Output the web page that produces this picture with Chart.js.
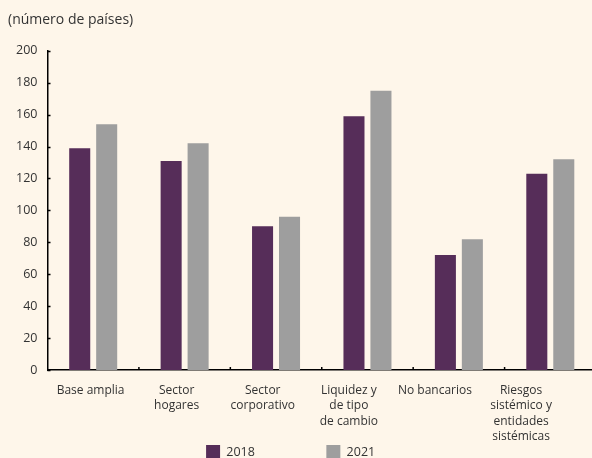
<!DOCTYPE html>
<html>
<head>
<meta charset="utf-8">
<script src="https://cdn.jsdelivr.net/npm/chart.js@4"></script>
<style>
  html, body { margin: 0; padding: 0; background: #FEF6EA; overflow: hidden; }
  #wrap { position: relative; width: 596px; height: 469px; }
</style>
</head>
<body>
<div id="wrap"><canvas id="c"></canvas></div>
<script>
const categories = [
  ["Base amplia"],
  ["Sector", "hogares"],
  ["Sector", "corporativo"],
  ["Liquidez y", "de tipo", "de cambio"],
  ["No bancarios"],
  ["Riesgos", "sistémico y", "entidades", "sistémicas"]
];
const seriesNames = ["2018", "2021"];
const values2018 = [139, 131, 90, 159, 72, 123];
const values2021 = [154, 142, 96, 175, 82, 132];
const yTicks = [0, 20, 40, 60, 80, 100, 120, 140, 160, 180, 200];
const unitLabel = "(número de países)";

const FONT = "'Open Sans', sans-serif";
const TEXT = "#333333";

const innerTicks = {
  id: 'innerTicks',
  afterDraw(chart) {
    const ctx = chart.ctx;
    const x = chart.scales.x, y = chart.scales.y;
    ctx.save();
    ctx.strokeStyle = '#000';
    ctx.lineWidth = 1.5;
    ctx.beginPath();
    yTicks.forEach(v => {
      const py = Math.round(y.getPixelForValue(v)) + 0.5;
      ctx.moveTo(x.left, py);
      ctx.lineTo(x.left + 3, py);
    });
    for (let i = 0; i < categories.length - 1; i++) {
      const px = (x.getPixelForValue(i) + x.getPixelForValue(i + 1)) / 2;
      ctx.moveTo(px, y.bottom);
      ctx.lineTo(px, y.bottom - 3);
    }
    ctx.stroke();
    ctx.restore();
  }
};

new Chart(document.getElementById('c'), {
  type: 'bar',
  data: {
    labels: categories,
    datasets: [
      { label: seriesNames[0], data: values2018, backgroundColor: '#562D59', categoryPercentage: 0.59, barPercentage: 0.78 },
      { label: seriesNames[1], data: values2021, backgroundColor: '#9E9E9E', categoryPercentage: 0.59, barPercentage: 0.78 }
    ]
  },
  options: {
    responsive: true,
    maintainAspectRatio: false,
    animation: false,
    layout: { padding: { left: 8, right: 0, top: 0, bottom: 0 } },
    plugins: {
      title: {
        display: true, text: unitLabel, align: 'start', color: TEXT,
        font: { family: FONT, size: 14, weight: 'normal' },
        padding: { top: 12, bottom: 22 }
      },
      legend: {
        position: 'bottom',
        labels: {
          color: TEXT, font: { family: FONT, size: 12.5 },
          boxWidth: 14, boxHeight: 14, padding: 0,
          generateLabels(chart) {
            const items = Chart.defaults.plugins.legend.labels.generateLabels(chart);
            items.forEach((it, i) => {
              it.lineWidth = 0;
              it.text = it.text + ' '.repeat(i < items.length - 1 ? 22 : 7);
            });
            return items;
          }
        }
      },
      tooltip: { enabled: false }
    },
    scales: {
      x: {
        grid: { display: false, drawTicks: false },
        border: { display: true, color: '#000', width: 1.5 },
        ticks: { display: false },
        afterFit(s) { s.height = 0; }
      },
      xLabels: {
        type: 'linear',
        position: 'bottom',
        offset: false,
        bounds: 'data',
        min: -0.5, max: 5.87,
        afterBuildTicks(s) { s.ticks = categories.map((c, i) => ({ value: i })); },
        grid: { display: false, drawTicks: false, offset: false },
        border: { display: false },
        ticks: {
          color: TEXT, font: { family: FONT, size: 12, lineHeight: 1.27 }, padding: 13,
          maxRotation: 0, autoSkip: false,
          callback: (v) => categories[v]
        },
        afterFit(s) { s.height = 75; }
      },
      y: {
        min: 0, max: 200,
        afterBuildTicks(s) { s.ticks = yTicks.map(v => ({ value: v })); },
        grid: { display: false, drawTicks: false },
        border: { display: true, color: '#000', width: 1.5 },
        ticks: { color: TEXT, font: { family: FONT, size: 12.5 }, padding: 10 },
        afterFit(s) { s.width = 39.5; }
      }
    }
  },
  plugins: [innerTicks]
});
</script>
</body>
</html>
